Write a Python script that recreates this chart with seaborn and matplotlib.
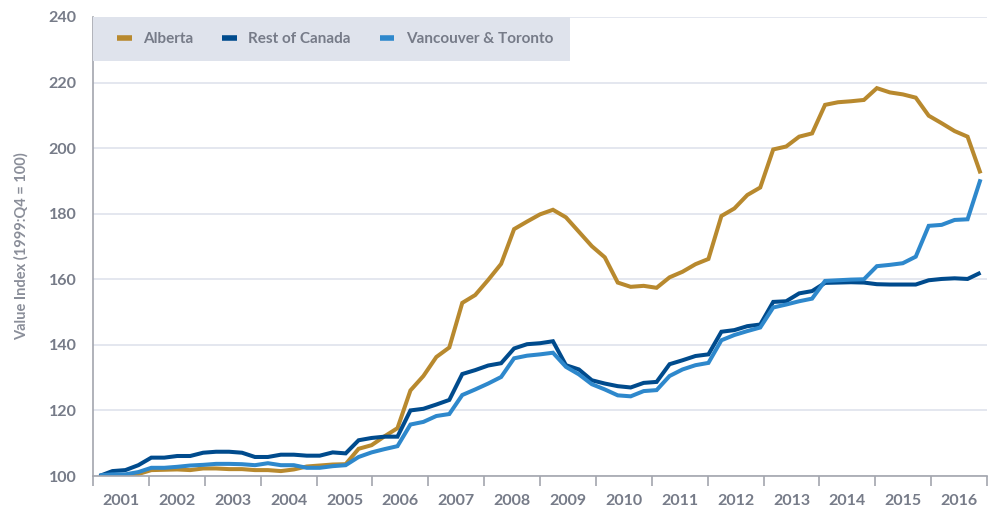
import numpy as np
import pandas as pd
import matplotlib
matplotlib.use("Agg")
import matplotlib.pyplot as plt
from matplotlib.patches import Rectangle
import seaborn as sns

# ---- data (index, 1999:Q4 = 100), quarterly 1999Q4 .. 2016Q4 ----
quarters = [str(p) for p in pd.period_range("1999Q4", "2016Q4", freq="Q")]

alberta = [100.0, 99.7, 99.9, 100.6, 101.8, 101.9, 102.0, 101.8, 102.3, 102.3,
           102.1, 102.1, 101.8, 101.8, 101.5, 102.0, 102.9, 103.2, 103.5, 103.6,
           108.3, 109.4, 112.1, 114.6, 126.1, 130.5, 136.3, 139.2, 152.8, 155.2,
           159.8, 164.7, 175.3, 177.6, 179.8, 181.2, 178.9, 174.5, 170.1, 166.7,
           159.0, 157.7, 158.0, 157.4, 160.6, 162.3, 164.6, 166.2, 179.3, 181.6,
           185.7, 188.0, 199.6, 200.5, 203.5, 204.5, 213.2, 214.0, 214.3, 214.7,
           218.3, 217.0, 216.4, 215.4, 209.9, 207.6, 205.2, 203.5, 192.3]

rest_of_canada = [100.0, 101.5, 101.8, 103.3, 105.6, 105.6, 106.1, 106.1, 107.1, 107.4,
                  107.4, 107.1, 105.8, 105.8, 106.5, 106.5, 106.2, 106.2, 107.2, 106.9,
                  110.9, 111.6, 112.0, 112.0, 120.0, 120.5, 121.8, 123.2, 131.1, 132.3,
                  133.7, 134.4, 138.9, 140.2, 140.5, 141.1, 133.8, 132.5, 129.2, 128.2,
                  127.4, 127.0, 128.4, 128.7, 134.1, 135.3, 136.6, 137.1, 144.0, 144.5,
                  145.7, 146.2, 153.1, 153.3, 155.7, 156.4, 158.9, 159.0, 159.1, 159.0,
                  158.5, 158.4, 158.4, 158.4, 159.7, 160.1, 160.3, 160.1, 162.0]

vancouver_toronto = [100.2, 100.5, 100.5, 101.2, 102.5, 102.5, 102.8, 103.2, 103.4, 103.7,
                     103.7, 103.6, 103.3, 103.9, 103.3, 103.3, 102.5, 102.5, 103.0, 103.3,
                     105.8, 107.2, 108.2, 109.1, 115.7, 116.5, 118.3, 118.9, 124.7, 126.4,
                     128.2, 130.2, 135.9, 136.7, 137.1, 137.6, 133.3, 131.0, 128.0, 126.4,
                     124.6, 124.3, 125.9, 126.2, 130.5, 132.5, 133.8, 134.5, 141.4, 143.0,
                     144.2, 145.3, 151.4, 152.3, 153.3, 154.1, 159.5, 159.7, 159.9, 160.0,
                     164.0, 164.4, 164.9, 166.9, 176.3, 176.6, 178.1, 178.3, 190.5]

series_names = ["Alberta", "Rest of Canada", "Vancouver & Toronto"]
colors = ["#B8892E", "#004B8D", "#2E88CC"]
year_labels = [str(y) for y in range(2001, 2017)]
y_ticks = [100, 120, 140, 160, 180, 200, 220, 240]

# ---- long-format table ----
pos = np.arange(len(quarters))
df = pd.concat([
    pd.DataFrame({"pos": pos, "quarter": quarters, "value": vals, "series": name})
    for name, vals in zip(series_names, [alberta, rest_of_canada, vancouver_toronto])
])

sns.set_style("white")
plt.rcParams["font.family"] = ["Lato", "DejaVu Sans"]
plt.rcParams["font.weight"] = "bold"

fig = plt.figure(figsize=(9.9, 5.12), dpi=100)
ax = fig.add_axes([93 / 990, (512 - 476) / 512, (987 - 93) / 990, (476 - 17) / 512])

sns.lineplot(data=df, x="pos", y="value", hue="series", hue_order=series_names,
             palette=colors, linewidth=2.9, ax=ax, legend=True,
             solid_joinstyle="miter", solid_capstyle="butt")

n = len(quarters)
ax.set_xlim(-0.5, n - 0.5)
ax.set_ylim(100, 240)

# x axis: 16 evenly spaced intervals with labels in the middle
step = n / len(year_labels)
major = [-0.5 + k * step for k in range(len(year_labels) + 1)]
minor = [-0.5 + (k + 0.5) * step for k in range(len(year_labels))]
ax.set_xticks(major)
ax.set_xticklabels([])
ax.set_xticks(minor, minor=True)
ax.set_xticklabels(year_labels, minor=True)
ax.tick_params(axis="x", which="major", direction="out", length=7, width=1.2,
               color="#A3A6AE", bottom=True)
ax.tick_params(axis="x", which="minor", length=0, pad=13, labelsize=11.5,
               labelcolor="#767B88")

ax.set_yticks(y_ticks)
ax.tick_params(axis="y", length=0, pad=12, labelsize=11.5, labelcolor="#767B88")
for lab in ax.get_xticklabels(minor=True) + ax.get_yticklabels():
    lab.set_fontweight("bold")

ax.grid(axis="y", color="#E2E5EE", linewidth=1.3)
ax.grid(axis="x", visible=False)
ax.set_axisbelow(True)

for side in ["top", "right"]:
    ax.spines[side].set_visible(False)
for side in ["left", "bottom"]:
    ax.spines[side].set_color("#A3A6AE")
    ax.spines[side].set_linewidth(1.2)

ax.set_xlabel("")
ax.set_ylabel("Value Index (1999:Q4 = 100)", fontsize=10.5, fontweight="bold",
              color="#8A8E99", labelpad=14)

# legend with a shaded band behind it
ax.add_patch(Rectangle((0, 1 - 44 / 459), (570 - 93) / 894, 44 / 459,
                       transform=ax.transAxes, facecolor="#DFE3EC",
                       edgecolor="none", zorder=5, clip_on=False))
handles, labels = ax.get_legend_handles_labels()
leg = ax.legend(handles, labels, loc="center left",
                bbox_to_anchor=(24 / 894, 1 - 22 / 459), ncol=3, frameon=False,
                borderpad=0, borderaxespad=0, handlelength=0.95,
                handletextpad=0.75, columnspacing=1.9,
                prop={"size": 11, "weight": "bold"})
leg.set_zorder(6)
for t in leg.get_texts():
    t.set_color("#767B88")
for h in leg.get_lines():
    h.set_linewidth(4)

fig.savefig("out.png", dpi=100)
